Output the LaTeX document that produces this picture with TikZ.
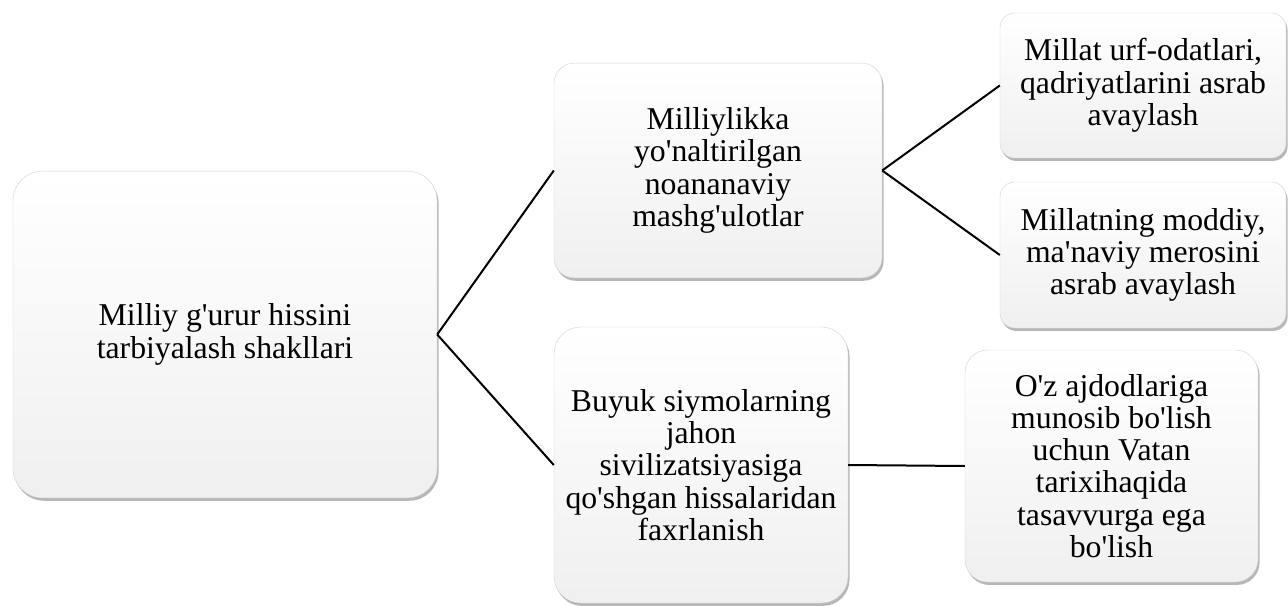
\documentclass[tikz,border=0pt]{standalone}
\usepackage{fontspec}
\setmainfont{Liberation Serif}
\newfontfamily\boxfam{Liberation Serif}
\usepackage{tikz}
\usetikzlibrary{shadows}
\tikzset{
  box/.style={rectangle,draw=gray!35,line width=0.3pt,top color=white,bottom color=gray!12,
    drop shadow={shadow xshift=1.2pt,shadow yshift=-2.2pt,opacity=0.4,fill=black!70},
    align=center,inner sep=2pt,font=\boxfam\fontsize{23.8}{24.2}\selectfont},
  ln/.style={line width=1.5pt,black}
}

\begin{document}
\begin{tikzpicture}[x=0.75pt,y=-0.75pt]
\useasboundingbox (0,0) rectangle (1288,606);
% level 0
\node[box,minimum width=318pt,minimum height=245pt,rounded corners=22pt] (root) at (225,334.5)
  {Milliy g'urur hissini\\tarbiyalash shakllari};
% level 1
\node[box,minimum width=246pt,minimum height=161pt,rounded corners=15pt] (mtop) at (718,170.5)
  {Milliylikka\\yo'naltirilgan\\noananaviy\\mashg'ulotlar};
\node[box,minimum width=220.5pt,minimum height=207pt,rounded corners=20pt] (mbot) at (701,465)
  {Buyuk siymolarning\\jahon\\sivilizatsiyasiga\\qo'shgan hissalaridan\\faxrlanish};
% level 2
\node[box,minimum width=214.5pt,minimum height=108.75pt,rounded corners=11pt] (rtop) at (1143,85.5)
  {Millat urf-odatlari,\\qadriyatlarini asrab\\avaylash};
\node[box,minimum width=214.5pt,minimum height=109.5pt,rounded corners=11pt] (rmid) at (1143,255)
  {Millatning moddiy,\\ma'naviy merosini\\asrab avaylash};
\node[box,minimum width=219.75pt,minimum height=174pt,rounded corners=17pt] (rbot) at (1111.5,466)
  {O'z ajdodlariga\\munosib bo'lish\\uchun Vatan\\tarixihaqida\\tasavvurga ega\\bo'lish};
% connectors
\draw[ln] (root.east) -- (mtop.west);
\draw[ln] (root.east) -- (mbot.west);
\draw[ln] (mtop.east) -- (rtop.west);
\draw[ln] (mtop.east) -- (rmid.west);
\draw[ln] (mbot.east) -- (rbot.west);
\end{tikzpicture}
\end{document}
